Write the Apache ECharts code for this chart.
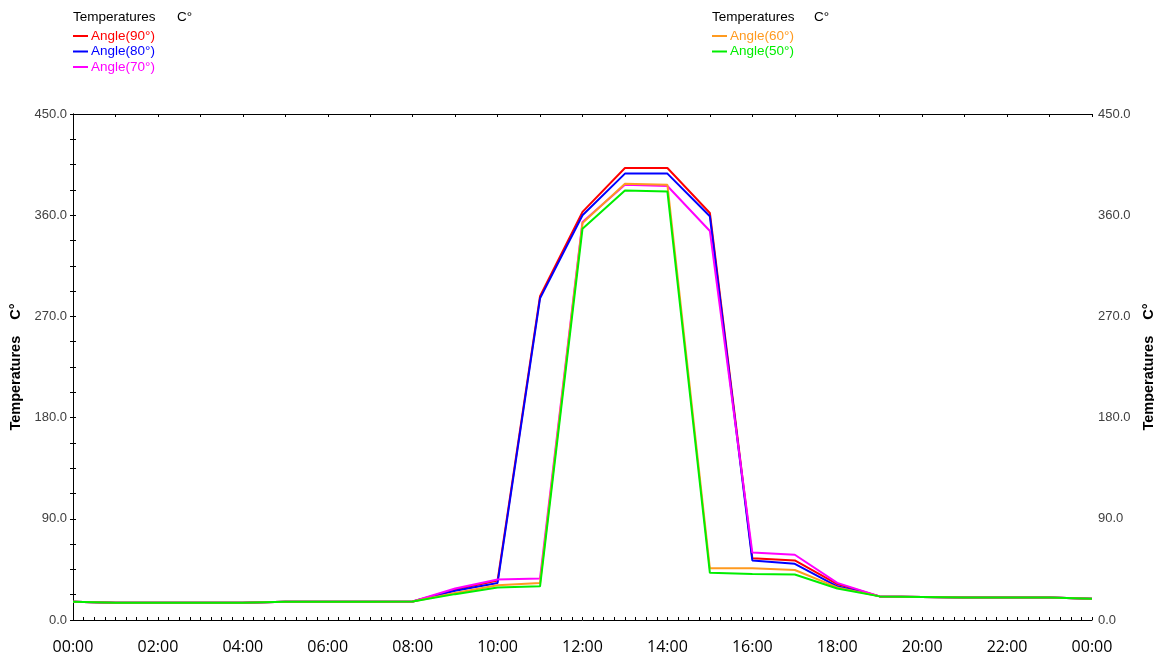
<!DOCTYPE html>
<html>
<head>
<meta charset="utf-8">
<title>Temperatures</title>
<script src="https://cdn.jsdelivr.net/npm/echarts@6/dist/echarts.min.js"></script>
<style>
  html, body { margin: 0; padding: 0; background: #fff; }
  #chart { width: 1154px; height: 657px; }
</style>
</head>
<body>
<div id="chart"></div>
<script>
  // hours of the day, 0..24
  const hours = [0, 1, 2, 3, 4, 5, 6, 7, 8, 9, 10, 11, 12, 13, 14, 15, 16, 17, 18, 19, 20, 21, 22, 23, 24]
  const yTicks = [0, 90, 180, 270, 360, 450]

  const angle90 = [16.3, 15.4, 15.4, 15.4, 15.4, 16.3, 16.3, 16.3, 16.5, 27, 35, 288, 363, 402, 402, 362, 55, 53, 32, 21, 20.5, 20, 20, 20, 19]
  const angle80 = [16.3, 15.4, 15.4, 15.4, 15.4, 16.3, 16.3, 16.3, 16.5, 26, 33, 286, 360, 397, 397, 359, 53, 50, 30, 21, 20.5, 20, 20, 20, 19]
  const angle70 = [16.3, 15.4, 15.4, 15.4, 15.4, 16.3, 16.3, 16.3, 16.5, 28, 36, 37, 354, 387, 386, 346, 60, 58, 33, 21, 20.5, 20, 20, 20, 19]
  const angle60 = [16.3, 15.4, 15.4, 15.4, 15.4, 16.3, 16.3, 16.3, 16.5, 24, 31, 33, 353, 388, 387, 46, 46, 44.5, 29, 21, 20.5, 20, 20, 20, 19]
  const angle50 = [16.3, 15.4, 15.4, 15.4, 15.4, 16.3, 16.3, 16.3, 16.5, 23, 29, 30, 348, 382, 381, 42, 41, 40.5, 28, 21, 20.5, 20, 20, 20, 19]

  const names = ['Angle(90°)', 'Angle(80°)', 'Angle(70°)', 'Angle(60°)', 'Angle(50°)']
  const colors = ['#ff0000', '#0000ff', '#ff00ff', '#ff9a1f', '#00ee00']
  const values = [angle90, angle80, angle70, angle60, angle50]

  const FONT = "'Liberation Sans', Arial, sans-serif"

  let dom = echarts.init(document.getElementById('chart'))

  let series = values.map((v, i) => ({
    type: 'line',
    name: names[i],
    data: v.map((y, k) => [hours[k], y]),
    showSymbol: false,
    symbol: 'none',
    lineStyle: { width: 2, color: colors[i] },
    itemStyle: { color: colors[i] },
    z: 2 + i
  }))

  let legendItem = i => ({ name: names[i], textStyle: { color: colors[i] } })

  let legendBase = {
    orient: 'vertical',
    top: 29,
    padding: 0,
    icon: 'rect',
    itemWidth: 15,
    itemHeight: 2,
    itemGap: 1.5,
    selectedMode: false,
    textStyle: { fontFamily: FONT, fontSize: 13.5, lineHeight: 14, padding: [0, 0, 0, -2] }
  }

  // ticks every 22.5 (inside), labels only every 90
  let yAxisBase = {
    type: 'value',
    min: 0,
    max: 450,
    interval: 22.5,
    name: 'Temperatures    C°',
    nameLocation: 'middle',
    nameRotate: 90,
    nameTextStyle: { fontFamily: FONT, fontSize: 14.5, fontWeight: 'bold', color: '#000' },
    axisLine: { show: true, lineStyle: { color: '#000', width: 1 } },
    axisTick: { show: true, inside: true, length: 3, lineStyle: { color: '#000' } },
    splitLine: { show: false },
    axisLabel: {
      fontFamily: FONT, fontSize: 13, color: '#404040', margin: 6,
      formatter: v => yTicks.indexOf(v) >= 0 ? v.toFixed(1) : ''
    }
  }

  let option = {
    animation: false,
    backgroundColor: '#fff',
    grid: { left: 73, right: 62, top: 114, bottom: 37, containLabel: false, outerBoundsMode: 'none' },
    // legend headers
    graphic: [
      { type: 'text', left: 73, top: 10, style: { text: 'Temperatures', font: '13.5px ' + FONT, fill: '#000' } },
      { type: 'text', left: 177, top: 10, style: { text: 'C°', font: '13.5px ' + FONT, fill: '#000' } },
      { type: 'text', left: 712, top: 10, style: { text: 'Temperatures', font: '13.5px ' + FONT, fill: '#000' } },
      { type: 'text', left: 814, top: 10, style: { text: 'C°', font: '13.5px ' + FONT, fill: '#000' } }
    ],
    legend: [
      Object.assign({}, legendBase, { left: 73, data: [0, 1, 2].map(legendItem) }),
      Object.assign({}, legendBase, { left: 712, data: [3, 4].map(legendItem) })
    ],
    xAxis: [{
      type: 'value',
      min: 0,
      max: 24,
      interval: 0.25,
      axisLine: { show: true, onZero: false, lineStyle: { color: '#000', width: 1 } },
      axisTick: { show: true, inside: true, length: 3, lineStyle: { color: '#000' } },
      splitLine: { show: false },
      axisLabel: {
        fontFamily: "'Open Sans', sans-serif", fontSize: 16, color: '#000', margin: 19,
        formatter: v => (v % 2 === 0) ? String(v % 24).padStart(2, '0') + ':00' : ''
      }
    }, {
      // top border
      type: 'value',
      position: 'top',
      min: 0,
      max: 24,
      interval: 1,
      axisLine: { show: true, onZero: false, lineStyle: { color: '#000', width: 1 } },
      axisTick: { show: true, inside: true, length: 3, lineStyle: { color: '#000' } },
      axisLabel: { show: false },
      splitLine: { show: false }
    }],
    yAxis: [
      Object.assign({}, yAxisBase, { position: 'left', nameGap: 44 }),
      Object.assign({}, yAxisBase, { position: 'right', nameGap: 41 })
    ],
    series: series
  }

  dom.setOption(option)
  window.addEventListener('resize', dom.resize)
</script>
</body>
</html>
